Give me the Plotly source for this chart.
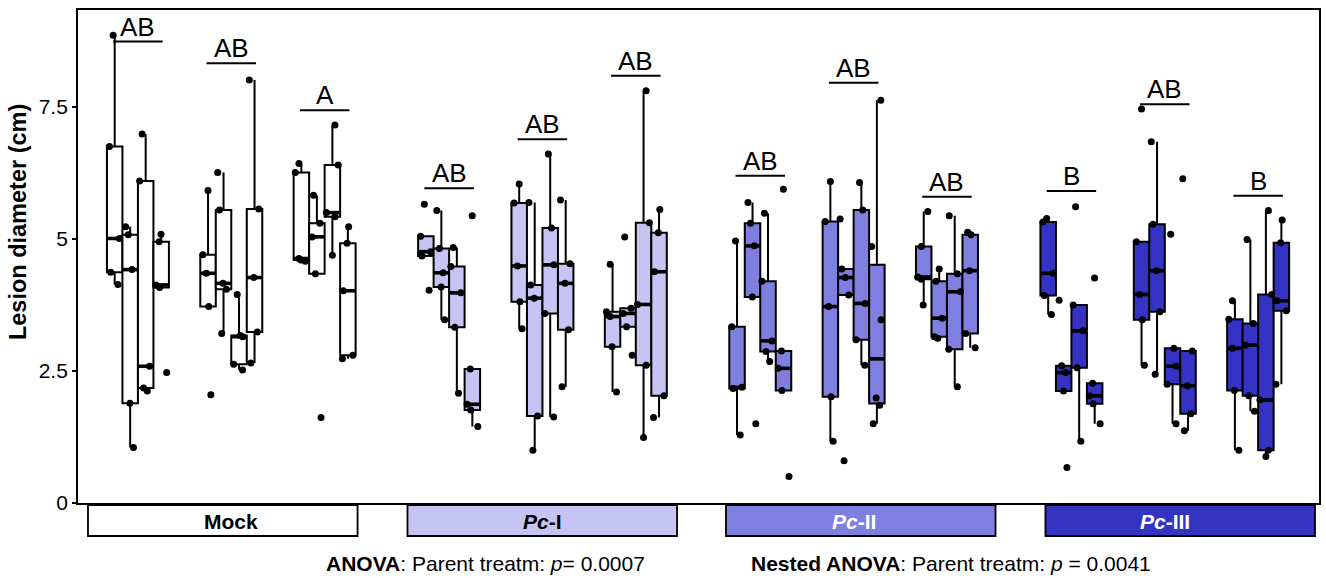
import numpy as np
import plotly.graph_objects as go

# ---------------- data ----------------
groups = ["Mock", "Pc-I", "Pc-II", "Pc-III"]
group_labels = ["<b>Mock</b>", "<b><i>Pc</i>-I</b>", "<b><i>Pc</i>-II</b>", "<b><i>Pc</i>-III</b>"]

# lesion diameters (cm): [subgroup][plant] -> values
mock_vals = [
    [[4.14, 4.37, 5.01, 6.75, 8.86], [1.05, 1.89, 4.42, 5.08, 5.23],
     [2.12, 2.18, 2.59, 6.10, 6.99], [2.47, 4.08, 4.13, 4.95, 5.09]],
    [[2.05, 3.72, 4.35, 4.70, 5.92], [3.21, 4.05, 4.16, 5.55, 6.26],
     [2.52, 2.63, 3.15, 3.17, 3.95], [2.65, 3.24, 4.27, 5.57, 8.01]],
    [[4.58, 4.60, 4.63, 6.26, 6.43], [1.62, 4.34, 5.04, 5.30, 5.83],
     [4.69, 5.42, 5.50, 6.40, 7.16], [2.73, 2.80, 4.02, 4.92, 5.23]],
]
pc1_vals = [
    [[4.03, 4.68, 4.76, 5.05, 5.66], [3.47, 4.09, 4.36, 4.82, 5.54],
     [2.08, 3.33, 3.98, 4.48, 4.84], [1.45, 1.76, 1.87, 2.54, 5.44]],
    [[3.30, 3.81, 4.49, 5.68, 6.04], [1.00, 1.65, 3.88, 4.13, 5.69],
     [1.63, 3.59, 4.51, 5.21, 6.61], [2.20, 3.28, 4.16, 4.53, 5.74]],
    [[2.10, 2.96, 3.53, 3.62, 4.52], [2.80, 3.34, 3.59, 3.69, 5.04],
     [1.24, 2.61, 3.76, 5.31, 7.81], [1.62, 2.03, 4.38, 5.12, 5.56]],
]
pc2_vals = [
    [[1.29, 2.17, 2.19, 3.34, 4.96], [1.50, 3.90, 4.87, 5.30, 5.69],
     [2.68, 2.87, 3.07, 4.20, 5.49], [0.50, 2.13, 2.55, 2.88, 5.94]],
    [[1.17, 2.01, 3.72, 5.33, 6.09], [0.80, 3.94, 4.27, 4.43, 5.38],
     [2.61, 3.09, 3.78, 5.55, 6.07], [1.50, 1.85, 1.99, 3.47, 4.86, 7.63]],
    [[3.75, 4.24, 4.28, 4.86, 5.52], [3.12, 3.15, 3.50, 4.20, 4.43],
     [2.20, 2.91, 4.00, 4.34, 5.44], [2.94, 3.21, 4.40, 5.08, 5.13]],
]
pc3_vals = [
    [[3.57, 3.93, 4.35, 5.32, 5.39], [0.67, 2.12, 2.47, 2.60, 3.84],
     [1.17, 2.56, 3.26, 3.75, 5.61], [1.50, 1.88, 2.03, 2.27, 4.26]],
    [[2.61, 3.47, 3.95, 4.95, 7.46], [2.44, 3.62, 4.40, 5.28, 6.84],
     [1.50, 2.25, 2.59, 2.93, 5.09], [1.37, 1.69, 2.22, 2.88, 6.14]],
    [[1.00, 2.13, 2.93, 3.48, 3.83], [1.74, 2.03, 2.99, 3.40, 4.99],
     [0.88, 1.00, 1.95, 3.95, 5.54], [2.25, 3.64, 3.83, 4.93, 5.36]],
]
all_vals = [mock_vals, pc1_vals, pc2_vals, pc3_vals]

# significance letters and their bar heights (cm)
letters = [["AB", "AB", "A"], ["AB", "AB", "AB"], ["AB", "AB", "AB"], ["B", "AB", "B"]]
letter_heights = [[8.74, 8.33, 7.44], [5.96, 6.89, 8.09], [6.20, 7.96, 5.80], [5.91, 7.55, 5.82]]

y_ticks = [0, 2.5, 5, 7.5]
y_ticklabels = ["0", "2.5", "5", "7.5"]

anova_text = "<b>ANOVA</b>: Parent treatm: <i>p</i>= 0.0007"
nested_text = "<b>Nested ANOVA</b>: Parent treatm: <i>p</i> = 0.0041"

# ---------------- style ----------------
fill_colors = ["#FFFFFF", "#C6C4F2", "#7F7FDF", "#3533C4"]
strip_text_colors = ["black", "black", "white", "white"]
FONT = "Arial, 'Liberation Sans', sans-serif"
GROUP_STEP = 10 / 3
BOX_W = 0.166
W, H = 1326, 578
L, R, T, B = 78, 5, 10, 75
X_RANGE = [-0.642, 12.652]
Y_RANGE = [0, (503 - 10) / 52.8]


def px_x(p):
    return (p - L) / (W - L - R)


def px_y(p):
    return (H - B - p) / (H - T - B)


def box_stats(v):
    a = np.sort(np.asarray(v, dtype=float))
    q1, med, q3 = np.percentile(a, [25, 50, 75])
    iqr = q3 - q1
    lo = a[a >= q1 - 1.5 * iqr].min()
    hi = a[a <= q3 + 1.5 * iqr].max()
    return q1, med, q3, lo, hi


fig = go.Figure()
median_x, median_y = [], []
pts_traces = []
for g, gvals in enumerate(all_vals):
    xs, q1s, meds, q3s, los, his = [], [], [], [], [], []
    px_, py_ = [], []
    for s, svals in enumerate(gvals):
        for b, vals in enumerate(svals):
            x = g * GROUP_STEP + s + (b - 1.5) * BOX_W
            q1, med, q3, lo, hi = box_stats(vals)
            xs.append(x); q1s.append(q1); meds.append(med); q3s.append(q3)
            los.append(lo); his.append(hi)
            median_x += [x - BOX_W / 2, x + BOX_W / 2, None]
            median_y += [med, med, None]
            px_ += [x] * len(vals)
            py_ += list(vals)
    fig.add_trace(go.Box(
        x=xs, q1=q1s, median=meds, q3=q3s, lowerfence=los, upperfence=his,
        width=BOX_W, fillcolor=fill_colors[g], line=dict(color="black", width=2),
        whiskerwidth=0, boxpoints=False, showlegend=False, hoverinfo="skip"))
    pts_traces.append(go.Box(
        x=px_, y=py_, boxpoints="all", jitter=0.8, pointpos=0, width=BOX_W,
        fillcolor="rgba(0,0,0,0)", line=dict(color="rgba(0,0,0,0)", width=0),
        marker=dict(color="black", size=7), showlegend=False, hoverinfo="skip"))

for t in pts_traces:
    fig.add_trace(t)

fig.add_trace(go.Scatter(x=median_x, y=median_y, mode="lines",
                         line=dict(color="black", width=3.6),
                         showlegend=False, hoverinfo="skip"))

# significance bars + letters
bar_x, bar_y = [], []
for g in range(4):
    for s in range(3):
        c = g * GROUP_STEP + s
        h = letter_heights[g][s]
        bar_x += [c - 0.265, c + 0.265, None]
        bar_y += [h, h, None]
        fig.add_annotation(x=c, y=h, text=letters[g][s], showarrow=False,
                           xanchor="center", yanchor="bottom", yshift=-2,
                           font=dict(family=FONT, size=26, color="black"))
fig.add_trace(go.Scatter(x=bar_x, y=bar_y, mode="lines",
                         line=dict(color="black", width=2),
                         showlegend=False, hoverinfo="skip"))

# strips below the panel (labels centred on each group's middle position)
strip_px = [(88, 358), (408, 678), (727, 997), (1047, 1317)]
for g, (x0, x1) in enumerate(strip_px):
    fig.add_shape(type="rect", xref="paper", yref="paper",
                  x0=px_x(x0), x1=px_x(x1), y0=px_y(536), y1=px_y(505),
                  fillcolor=fill_colors[g], line=dict(color="black", width=1.8),
                  layer="above")
    fig.add_annotation(xref="x", yref="paper", x=g * GROUP_STEP + 1, y=px_y(521),
                       text=group_labels[g], showarrow=False, xanchor="center",
                       yanchor="middle",
                       font=dict(family=FONT, size=21, color=strip_text_colors[g]))

fig.add_annotation(xref="paper", yref="paper", x=px_x(486), y=px_y(563),
                   text=anova_text, showarrow=False, xanchor="center", yanchor="middle",
                   font=dict(family=FONT, size=21, color="black"))
fig.add_annotation(xref="paper", yref="paper", x=px_x(952), y=px_y(563),
                   text=nested_text, showarrow=False, xanchor="center", yanchor="middle",
                   font=dict(family=FONT, size=21, color="black"))

fig.add_annotation(xref="paper", yref="paper", x=px_x(18), y=px_y(222),
                   text="<b>Lesion diameter (cm)</b>", textangle=-90, showarrow=False,
                   xanchor="center", yanchor="middle",
                   font=dict(family=FONT, size=23.5, color="black"))

group_centers = [g * GROUP_STEP + 1 for g in range(4)]
fig.update_layout(
    width=W, height=H, margin=dict(l=L, r=R, t=T, b=B),
    plot_bgcolor="white", paper_bgcolor="white", boxmode="overlay",
    font=dict(family=FONT, color="black"),
    xaxis=dict(range=X_RANGE, showgrid=False, zeroline=False, showline=True,
               linecolor="black", linewidth=1.8, mirror=True,
               tickvals=group_centers, ticktext=["", "", "", ""], ticks="outside",
               ticklen=2, tickcolor="#444", tickwidth=1),
    yaxis=dict(range=Y_RANGE, showgrid=False, zeroline=False, showline=True,
               linecolor="black", linewidth=1.8, mirror=True,
               tickvals=y_ticks, ticktext=y_ticklabels, ticks="outside",
               ticklen=4, tickwidth=1.8, tickcolor="black",
               tickfont=dict(family=FONT, size=21, color="black")),
)

fig.write_html("out.html", config={"displayModeBar": False},
               post_script="document.body.style.margin='0';document.body.style.overflow='hidden';")
